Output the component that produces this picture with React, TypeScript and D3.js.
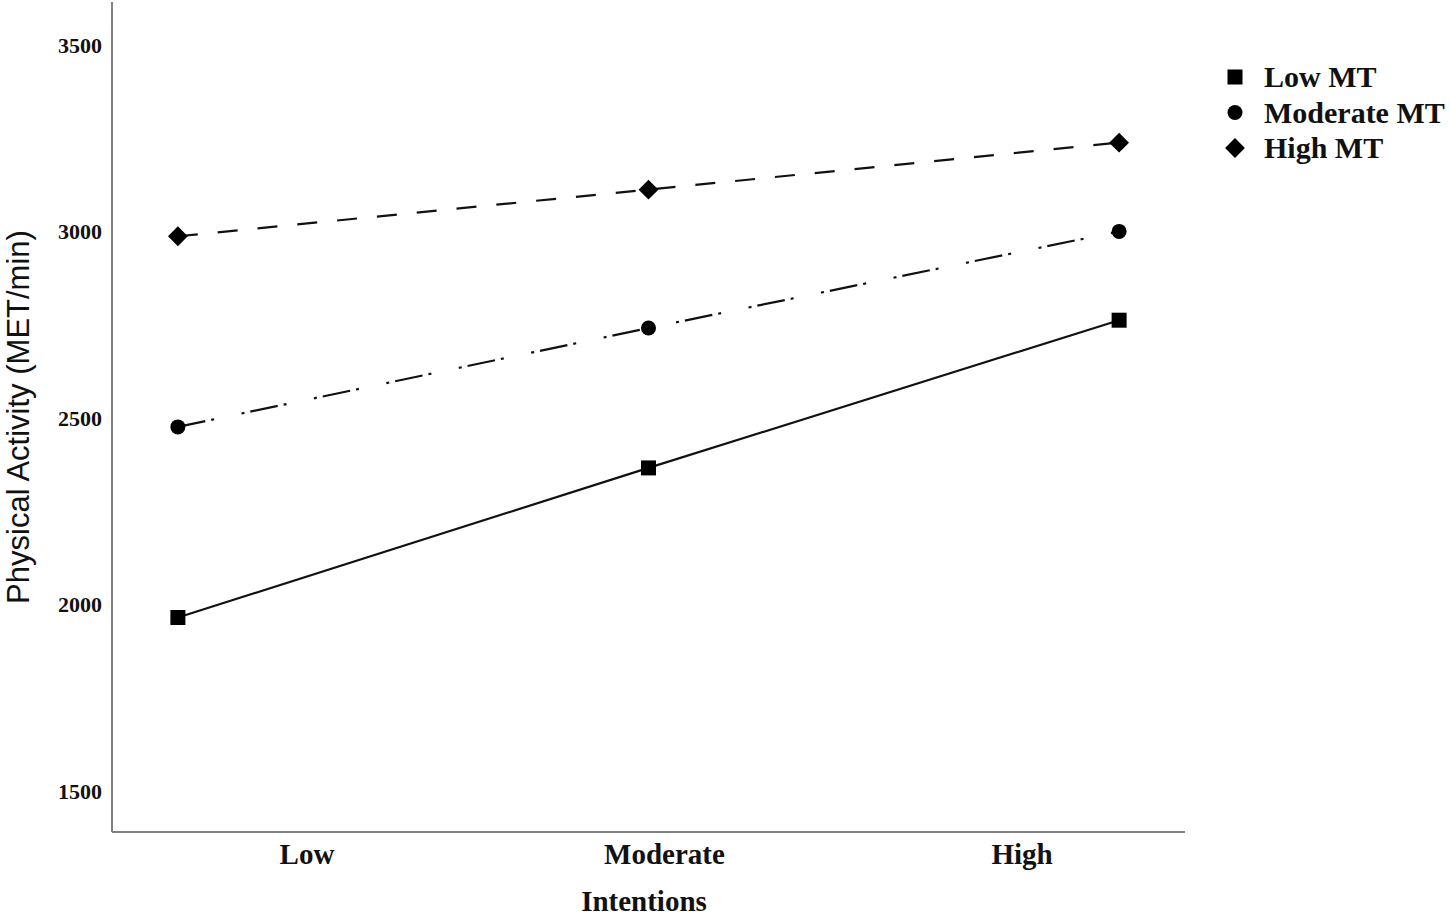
import React from 'react';
import * as d3 from 'd3';

// categories on the x axis (Intentions)
const intentions = ['Low', 'Moderate', 'High'];

// series: physical activity (MET/min) by motivation level
const lowMT = [1965, 2366, 2762];
const moderateMT = [2476, 2741, 3000];
const highMT = [2987, 3112, 3238];

const seriesNames = ['Low MT', 'Moderate MT', 'High MT'];
const yTicks = [1500, 2000, 2500, 3000, 3500];

const W = 1450;
const H = 920;
const left = 112;
const right = 1185;
const top = 2;
const bottom = 832;

const serif = '"Liberation Serif", "Times New Roman", serif';

const App = () => {
  const x = d3.scalePoint<string>().domain(intentions).range([left, right]).padding(0.14);
  // tick labels sit a bit off the points, as in the original
  const xLabel = d3.scalePoint<string>().domain(intentions).range([307, 1022]);
  const y = d3.scaleLinear().domain([1390, 3615]).range([bottom, top]);

  const line = d3.line<number>()
    .x((d, i) => x(intentions[i]) as number)
    .y(d => y(d));

  const series = [
    { name: seriesNames[0], values: lowMT, dash: 'none', shape: 'square' },
    { name: seriesNames[1], values: moderateMT, dash: '28,6,3,28,3,6', shape: 'circle' },
    { name: seriesNames[2], values: highMT, dash: '20,20', shape: 'diamond' },
  ];

  const marker = (shape: string, cx: number, cy: number, key: string) => {
    if (shape === 'circle') {
      return <circle key={key} cx={cx} cy={cy} r={7.5} fill="#000" />;
    }
    if (shape === 'square') {
      return <rect key={key} x={cx - 7.5} y={cy - 7.5} width={15} height={15} fill="#000" />;
    }
    return (
      <rect key={key} x={-7} y={-7} width={14} height={14} fill="#000"
        transform={`translate(${cx},${cy}) rotate(45)`} />
    );
  };

  return (
    <svg width={W} height={H} style={{ position: 'absolute', left: 0, top: 0, background: '#fff' }}>
      {/* axes */}
      <line x1={left} x2={left} y1={top} y2={bottom} stroke="#808080" strokeWidth={2} />
      <line x1={left} x2={right} y1={bottom} y2={bottom} stroke="#808080" strokeWidth={2} />

      {yTicks.map(t => (
        <text key={t} x={102} y={y(t)} dy="0.35em" textAnchor="end"
          fontFamily={serif} fontWeight="bold" fontSize={22} fill="#111">{t}</text>
      ))}

      {intentions.map(c => (
        <text key={c} x={xLabel(c)} y={864} textAnchor="middle"
          fontFamily={serif} fontWeight="bold" fontSize={29} fill="#111">{c}</text>
      ))}

      <text x={644} y={911} textAnchor="middle" fontFamily={serif} fontWeight="bold"
        fontSize={29} fill="#111">Intentions</text>

      <text transform={`translate(29,${(top + bottom) / 2}) rotate(-90)`} textAnchor="middle"
        fontFamily='"Liberation Sans", Arial, sans-serif' fontSize={31} fill="#111">
        Physical Activity (MET/min)
      </text>

      {/* lines */}
      {series.map(s => (
        <path key={s.name} d={line(s.values) || ''} fill="none" stroke="#111"
          strokeWidth={2.2} strokeDasharray={s.dash} />
      ))}
      {series.map(s => s.values.map((v, i) =>
        marker(s.shape, x(intentions[i]) as number, y(v), `${s.name}-${i}`)))}

      {/* legend */}
      {series.map((s, i) => (
        <g key={s.name} transform={`translate(0,${77 + i * 35.5})`}>
          {marker(s.shape, 1235, 0, 'm')}
          <text x={1264} y={10} fontFamily={serif} fontWeight="bold" fontSize={30} fill="#111">{s.name}</text>
        </g>
      ))}
    </svg>
  );
};

export default App;
